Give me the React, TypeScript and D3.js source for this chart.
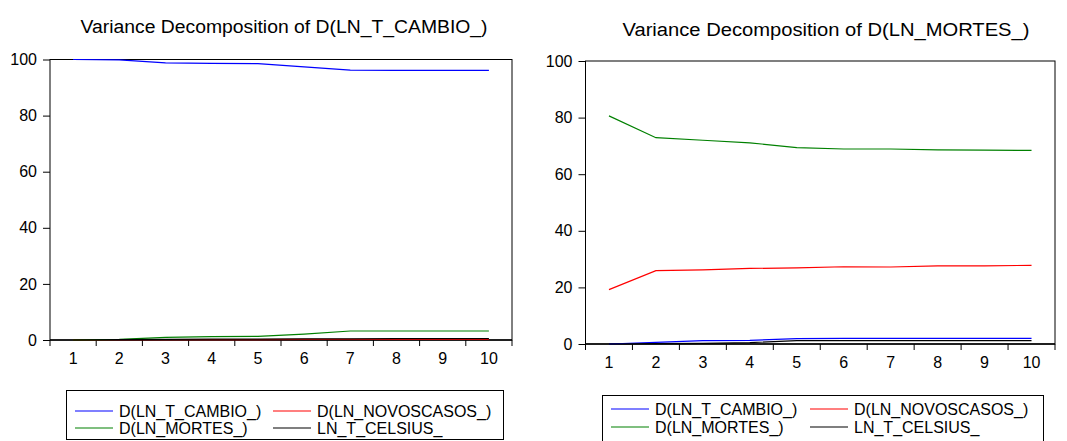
import React, { useRef, useEffect } from 'react';
import * as d3 from 'd3';

// forecast horizons
const periods = [1, 2, 3, 4, 5, 6, 7, 8, 9, 10];
const yTicks = [0, 20, 40, 60, 80, 100];

const seriesNames = ['D(LN_T_CAMBIO_)', 'D(LN_NOVOSCASOS_)', 'D(LN_MORTES_)', 'LN_T_CELSIUS_'];
const seriesColors = ['#0000ff', '#ff0000', '#008000', '#000000'];

// Variance Decomposition of D(LN_T_CAMBIO_)
const cambioCambio = [100, 99.9, 98.8, 98.6, 98.5, 97.4, 96.2, 96.1, 96.1, 96.1];
const cambioNovos = [0, 0.1, 0.1, 0.15, 0.15, 0.2, 0.2, 0.2, 0.2, 0.2];
const cambioMortes = [0, 0.2, 0.95, 1.2, 1.3, 2.1, 3.2, 3.2, 3.2, 3.2];
const cambioCelsius = [0, 0.1, 0.2, 0.3, 0.3, 0.4, 0.4, 0.5, 0.5, 0.5];

// Variance Decomposition of D(LN_MORTES_)
const mortesCambio = [0, 0.6, 1.2, 1.3, 1.9, 2.0, 2.0, 2.0, 2.0, 2.0];
const mortesNovos = [19.2, 25.9, 26.2, 26.7, 26.9, 27.3, 27.2, 27.6, 27.6, 27.8];
const mortesMortes = [80.6, 72.9, 72.0, 71.1, 69.4, 68.9, 68.9, 68.6, 68.5, 68.4];
const mortesCelsius = [0, 0.1, 0.2, 0.5, 1.2, 1.2, 1.2, 1.2, 1.2, 1.2];

const FONT = 'Liberation Sans, Arial, sans-serif';

type Panel = {
  title: string;
  titleX: number;
  titleY: number;
  left: number;
  right: number;
  top: number;
  bottom: number;
  series: number[][];
  legend: { x0: number; x1: number; y0: number; y1: number; rows: number[]; cols: number[] };
};

const panels: Panel[] = [
  {
    title: 'Variance Decomposition of D(LN_T_CAMBIO_)',
    titleX: 284,
    titleY: 33,
    left: 50,
    right: 512,
    top: 59.5,
    bottom: 340,
    series: [cambioCambio, cambioNovos, cambioMortes, cambioCelsius],
    legend: { x0: 66.5, x1: 503.5, y0: 390.5, y1: 439.5, rows: [411, 428], cols: [75, 273] },
  },
  {
    title: 'Variance Decomposition of D(LN_MORTES_)',
    titleX: 826,
    titleY: 36,
    left: 585.5,
    right: 1055,
    top: 61,
    bottom: 344,
    series: [mortesCambio, mortesNovos, mortesMortes, mortesCelsius],
    legend: { x0: 602.5, x1: 1043.5, y0: 395.5, y1: 446, rows: [409, 427], cols: [611, 810] },
  },
];

const App = () => {
  const svgRef = useRef<SVGSVGElement>(null);

  useEffect(() => {
    const svg = d3.select(svgRef.current);
    svg.selectAll('*').remove();

    panels.forEach((p) => {
      const g = svg.append('g');

      const x = d3.scaleBand<number>().domain(periods).range([p.left, p.right]);
      const y = d3.scaleLinear().domain([0, 100]).range([p.bottom, p.top]);

      g.append('text')
        .attr('x', p.titleX)
        .attr('y', p.titleY)
        .attr('text-anchor', 'middle')
        .attr('font-family', FONT)
        .attr('font-size', 18)
        .attr('textLength', 407)
        .attr('lengthAdjust', 'spacingAndGlyphs')
        .text(p.title);

      // frame
      g.append('rect')
        .attr('x', p.left)
        .attr('y', p.top)
        .attr('width', p.right - p.left)
        .attr('height', p.bottom - p.top)
        .attr('fill', 'none')
        .attr('stroke', '#000')
        .attr('stroke-width', 1);

      // y axis
      g.append('g')
        .attr('transform', `translate(${p.left},0)`)
        .call(d3.axisLeft(y).tickValues(yTicks).tickSize(7).tickPadding(6))
        .call((a) => a.select('.domain').remove())
        .call((a) => a.selectAll('text').attr('font-family', FONT).attr('font-size', 16).attr('fill', '#000'));

      // x axis: ticks at band edges, labels in the middle
      const edges = periods.map((d) => x(d) as number).concat([p.right]);
      g.append('line')
        .attr('x1', p.left)
        .attr('x2', p.right)
        .attr('y1', p.bottom)
        .attr('y2', p.bottom)
        .attr('stroke', '#000')
        .attr('stroke-width', 1.5);
      g.selectAll('.xtick')
        .data(edges)
        .enter()
        .append('line')
        .attr('x1', (d) => d)
        .attr('x2', (d) => d)
        .attr('y1', p.bottom)
        .attr('y2', p.bottom + 6)
        .attr('stroke', '#000');
      g.selectAll('.xlabel')
        .data(periods)
        .enter()
        .append('text')
        .attr('x', (d) => (x(d) as number) + x.bandwidth() / 2)
        .attr('y', p.bottom + 18)
        .attr('dy', '0.35em')
        .attr('text-anchor', 'middle')
        .attr('font-family', FONT)
        .attr('font-size', 16)
        .text((d) => d);

      const line = d3
        .line<number>()
        .x((_, i) => (x(periods[i]) as number) + x.bandwidth() / 2)
        .y((d) => y(d));

      p.series.forEach((s, i) => {
        g.append('path')
          .datum(s)
          .attr('d', line)
          .attr('fill', 'none')
          .attr('stroke', seriesColors[i])
          .attr('stroke-width', 1.2);
      });

      // legend
      const lg = p.legend;
      g.append('rect')
        .attr('x', lg.x0)
        .attr('y', lg.y0)
        .attr('width', lg.x1 - lg.x0)
        .attr('height', lg.y1 - lg.y0)
        .attr('fill', 'none')
        .attr('stroke', '#000');
      seriesNames.forEach((name, i) => {
        const cx = lg.cols[i % 2];
        const cy = lg.rows[Math.floor(i / 2)];
        g.append('line')
          .attr('x1', cx)
          .attr('x2', cx + 38)
          .attr('y1', cy)
          .attr('y2', cy)
          .attr('stroke', seriesColors[i])
          .attr('stroke-width', 1.2);
        g.append('text')
          .attr('x', cx + 44)
          .attr('y', cy)
          .attr('dy', '0.35em')
          .attr('font-family', FONT)
          .attr('font-size', 16)
          .text(name);
      });
    });
  }, []);

  return (
    <svg
      ref={svgRef}
      width={1067}
      height={441}
      style={{ position: 'absolute', left: 0, top: 0, background: '#fff' }}
    ></svg>
  );
};

export default App;
